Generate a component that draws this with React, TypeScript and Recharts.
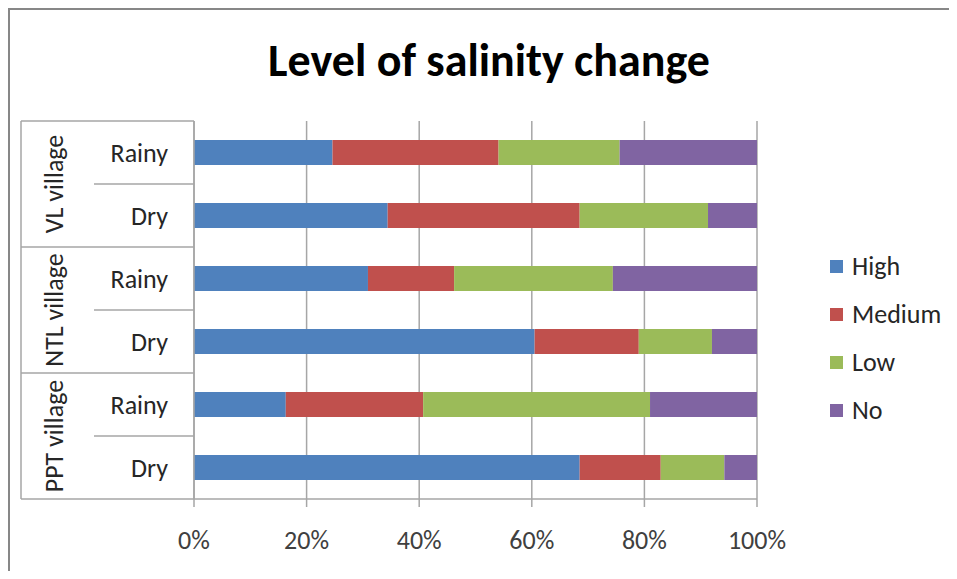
import React from 'react';
import { BarChart, Bar, XAxis, YAxis, CartesianGrid, Legend } from 'recharts';

const villages = ['VL village', 'NTL village', 'PPT village'];
const seasons = ['Rainy', 'Dry'];
const high = [24.6, 34.4, 30.9, 60.5, 16.3, 68.5];
const medium = [29.5, 34.1, 15.3, 18.5, 24.4, 14.4];
const low = [21.5, 22.8, 28.2, 13.0, 40.3, 11.3];
const no = [24.4, 8.7, 25.6, 8.0, 19.0, 5.8];
const xTicks = [0, 0.2, 0.4, 0.6, 0.8, 1];

const series = [
  { key: 'High', values: high, color: '#4f81bd' },
  { key: 'Medium', values: medium, color: '#c0504d' },
  { key: 'Low', values: low, color: '#9bbb59' },
  { key: 'No', values: no, color: '#8064a2' },
];

const data = villages.flatMap((village, vi) =>
  seasons.map((season, si) => {
    const i = vi * seasons.length + si;
    const row: Record<string, string | number> = { id: `${village}|${season}`, village, season };
    series.forEach((s) => {
      row[s.key] = s.values[i];
    });
    return row;
  })
);

const W = 957;
const H = 579;
const FONT = "Carlito, Calibri, Lato, sans-serif";
const GRID = '#a6a6a6';
const AXIS_X = 194;
const PLOT_TOP = 121;
const PLOT_BOTTOM = 499;
const BAND = (PLOT_BOTTOM - PLOT_TOP) / data.length;

function CategoryTick(props: any) {
  const { y, payload } = props;
  const idx = data.findIndex((d) => d.id === payload.value);
  if (idx < 0) return null;
  const row = data[idx];
  const si = idx % seasons.length;
  const top = y - BAND / 2;
  return (
    <g>
      <line x1={si === 0 ? 21 : 94} x2={AXIS_X} y1={top} y2={top} stroke={GRID} strokeWidth={1.5} />
      {idx === data.length - 1 && (
        <line x1={21} x2={AXIS_X} y1={y + BAND / 2} y2={y + BAND / 2} stroke={GRID} strokeWidth={1.5} />
      )}
      {si === 0 && (
        <line x1={21} x2={21} y1={top} y2={top + BAND * seasons.length} stroke={GRID} strokeWidth={1.5} />
      )}
      <text x={168} y={y} dy="0.35em" textAnchor="end" fontSize={26} fontFamily={FONT} fill="#262626">
        {row.season}
      </text>
      {si === 1 && (
        <text
          x={54}
          y={top}
          textAnchor="middle"
          dominantBaseline="central"
          transform={`rotate(-90 54 ${top})`}
          fontSize={26}
          fontFamily={FONT}
          fill="#262626"
        >
          {row.village}
        </text>
      )}
    </g>
  );
}

function LegendContent() {
  return (
    <div style={{ width: 200, boxSizing: 'border-box', paddingLeft: 73, fontFamily: FONT }}>
      {series.map((s) => (
        <div key={s.key} style={{ height: 48, display: 'flex', alignItems: 'center' }}>
          <span style={{ width: 13, height: 13, background: s.color, display: 'inline-block', marginRight: 9 }} />
          <span style={{ fontSize: 26, color: '#262626' }}>{s.key}</span>
        </div>
      ))}
    </div>
  );
}

export default function App() {
  return (
    <div style={{ margin: -8, position: 'relative', width: W, height: H, overflow: 'hidden', background: '#fff' }}>
      <div
        style={{
          position: 'absolute',
          left: 7,
          top: 7,
          width: 2000,
          height: 2000,
          borderTop: '3px solid #878787',
          borderLeft: '3px solid #878787',
        }}
      />
      <svg width={W} height={100} style={{ position: 'absolute', left: 0, top: 0 }}>
        <text x={489} y={76} textAnchor="middle" fontSize={46} fontWeight="bold" fontFamily={FONT} fill="#000">
          Level of salinity change
        </text>
      </svg>
      <div style={{ position: 'absolute', left: 0, top: 0 }}>
        <BarChart
          width={W}
          height={H}
          data={data}
          layout="vertical"
          stackOffset="expand"
          barSize={25}
          margin={{ top: PLOT_TOP, right: 0, bottom: 10, left: 0 }}
        >
          <CartesianGrid horizontal={false} stroke={GRID} strokeWidth={1.5} />
          <XAxis
            type="number"
            domain={[0, 1]}
            ticks={xTicks}
            tickFormatter={(v: number) => `${Math.round(v * 100)}%`}
            height={H - PLOT_BOTTOM - 10}
            stroke={GRID}
            strokeWidth={1.5}
            tickSize={8}
            tickMargin={24}
            tick={{ fontSize: 26, fontFamily: FONT, fill: '#404040' }}
          />
          <YAxis
            type="category"
            dataKey="id"
            width={AXIS_X}
            stroke={GRID}
            strokeWidth={1.5}
            tickLine={false}
            tick={<CategoryTick />}
            interval={0}
          />
          <Legend
            layout="vertical"
            align="right"
            verticalAlign="top"
            width={200}
            wrapperStyle={{ top: 242 }}
            content={<LegendContent />}
          />
          {series.map((s) => (
            <Bar key={s.key} dataKey={s.key} stackId="a" fill={s.color} isAnimationActive={false} />
          ))}
        </BarChart>
      </div>
    </div>
  );
}
